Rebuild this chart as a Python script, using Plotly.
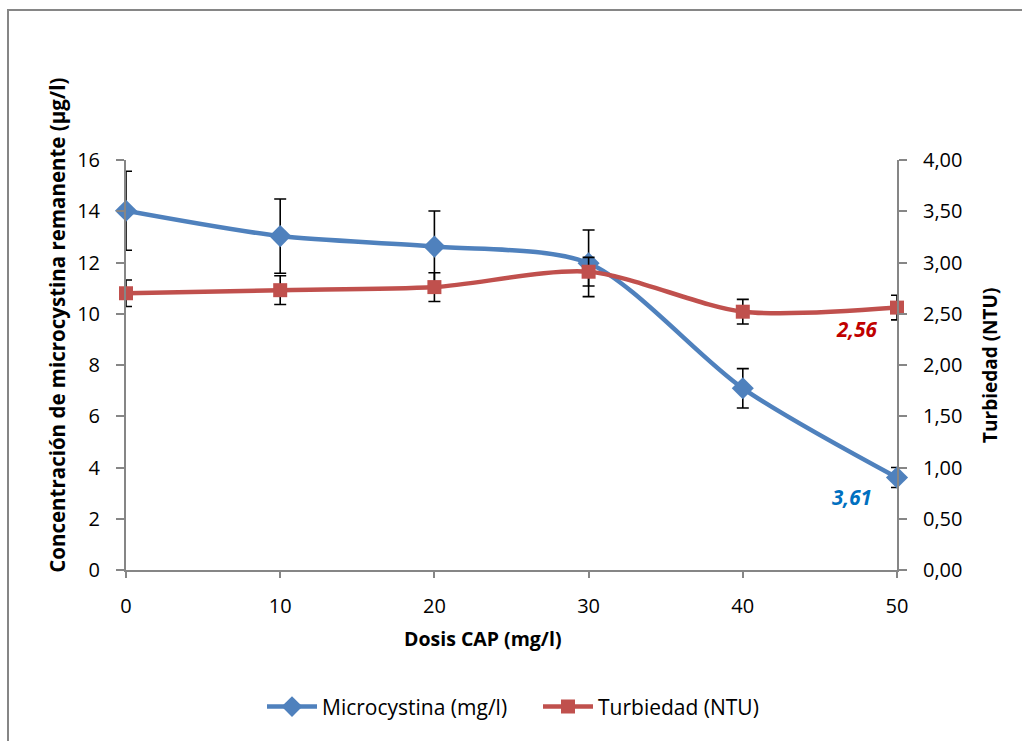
import plotly.graph_objects as go

dosis = [0, 10, 20, 30, 40, 50]
microcystina = [14.02, 13.03, 12.62, 11.97, 7.09, 3.61]
microcystina_err = [1.54, 1.45, 1.39, 1.30, 0.77, 0.39]
turbiedad = [2.70, 2.73, 2.76, 2.91, 2.52, 2.56]
turbiedad_err = [0.13, 0.14, 0.14, 0.14, 0.12, 0.12]

left_ticks = [0, 2, 4, 6, 8, 10, 12, 14, 16]
right_ticks = [0, 0.5, 1, 1.5, 2, 2.5, 3, 3.5, 4]
x_ticks = [0, 10, 20, 30, 40, 50]

FONT = "Open Sans"
AX = "#868686"
BLUE = "#4F81BD"
RED = "#C0504D"
TICK = 20

fig = go.Figure()
fig.add_trace(go.Scatter(
    x=dosis, y=microcystina, name="Microcystina (mg/l)",
    mode="lines+markers",
    line=dict(color=BLUE, width=4.5, shape="spline", smoothing=0.8),
    marker=dict(symbol="diamond", size=17, color=BLUE),
    error_y=dict(type="data", array=microcystina_err, visible=True,
                 color="black", thickness=1.6, width=6),
    cliponaxis=False, yaxis="y",
))
fig.add_trace(go.Scatter(
    x=dosis, y=turbiedad, name="Turbiedad (NTU)",
    mode="lines+markers",
    line=dict(color=RED, width=4.5, shape="spline", smoothing=0.8),
    marker=dict(symbol="square", size=14, color=RED),
    error_y=dict(type="data", array=turbiedad_err, visible=True,
                 color="black", thickness=1.6, width=6),
    cliponaxis=False, yaxis="y2",
))

def fmt(v):
    return f"{v:.2f}".replace(".", ",")

annotations = [
    dict(x=dosis[-1], y=microcystina[-1], xref="x", yref="y",
         xanchor="center", yanchor="middle",
         text=f"<b><i>{fmt(microcystina[-1])}</i></b>", showarrow=False,
         xshift=-45, yshift=-20, font=dict(family=FONT, size=20.5, color="#0070C0")),
    dict(x=dosis[-1], y=turbiedad[-1], xref="x", yref="y2",
         xanchor="center", yanchor="middle",
         text=f"<b><i>{fmt(turbiedad[-1])}</i></b>", showarrow=False,
         xshift=-41, yshift=-21, font=dict(family=FONT, size=20.5, color="#C00000")),
    dict(x=-0.0895, y=0.598, xref="paper", yref="paper", textangle=-90,
         xanchor="center", yanchor="middle",
         text="<b>Concentración de microcystina remanente (µg/l)</b>", showarrow=False,
         font=dict(family=FONT, size=20.5, color="black")),
    dict(x=1.1206, y=0.5, xref="paper", yref="paper", textangle=-90,
         xanchor="center", yanchor="middle",
         text="<b>Turbiedad (NTU)</b>", showarrow=False,
         font=dict(family=FONT, size=19, color="black")),
    dict(x=0.463, y=-0.166, xref="paper", yref="paper",
         xanchor="center", yanchor="middle",
         text="<b>Dosis CAP (mg/l)</b>", showarrow=False,
         font=dict(family=FONT, size=19.5, color="black")),
]

fig.update_layout(
    width=1022, height=741,
    margin=dict(l=126, r=125, t=160, b=171),
    paper_bgcolor="white", plot_bgcolor="white",
    separators=",.",
    font=dict(family=FONT, size=TICK, color="black"),
    showlegend=True,
    legend=dict(orientation="h", x=(262 - 126) / 771, y=-0.334, xanchor="left", yanchor="middle",
                font=dict(family=FONT, size=21, color="black"), itemwidth=50,
                entrywidth=211, entrywidthmode="pixels", tracegroupgap=0),
    annotations=annotations,
    xaxis=dict(range=[0, 50], tickvals=x_ticks, showline=True, linecolor=AX, linewidth=2,
               ticks="outside", ticklen=6, tickcolor=AX, tickwidth=1.5, showgrid=False,
               zeroline=False, tickfont=dict(size=TICK), ticklabelstandoff=11),
    yaxis=dict(range=[0, 16], tickvals=left_ticks, showline=True, linecolor=AX, linewidth=2,
               ticks="outside", ticklen=8, tickcolor=AX, tickwidth=1.5, showgrid=False,
               zeroline=False, tickfont=dict(size=TICK), ticklabelstandoff=12),
    yaxis2=dict(range=[0, 4], tickvals=right_ticks, tickformat=".2f", overlaying="y",
                side="right", showline=True, linecolor=AX, linewidth=2,
                ticks="outside", ticklen=8, tickcolor=AX, tickwidth=1.5, showgrid=False,
                zeroline=False, tickfont=dict(size=TICK), ticklabelstandoff=12),
    shapes=[dict(type="rect", xref="paper", yref="paper",
                 x0=(8 - 126) / 771, x1=(1040 - 126) / 771,
                 y0=(570 - 760) / 410, y1=(570 - 10) / 410,
                 line=dict(color=AX, width=2), fillcolor="rgba(0,0,0,0)", layer="below")],
)

fig.write_html("out.html")
